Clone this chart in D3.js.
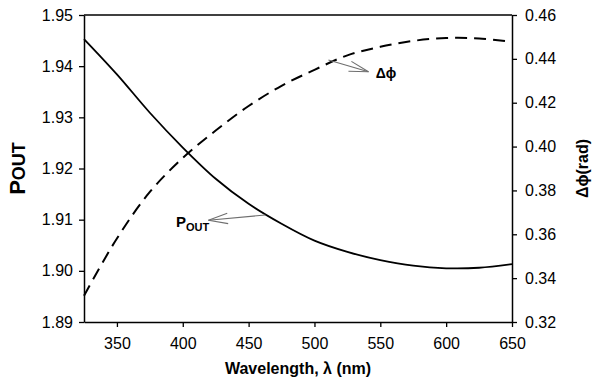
<!DOCTYPE html>
<html>
<head>
<meta charset="utf-8">
<script src="https://cdn.jsdelivr.net/npm/d3@7"></script>
<style>
  body { margin: 0; background: #fff; }
  svg { display: block; font-family: "Liberation Sans", Arial, sans-serif; }
</style>
</head>
<body>
<svg id="chart" width="602" height="390"></svg>
<script>
// ---- data ----
const wavelength = [325, 350, 375, 400, 425, 450, 475, 500, 525, 550, 575, 600, 625, 650];
const pOut = [1.9453, 1.9384, 1.9309, 1.9241, 1.9180, 1.9131, 1.9092, 1.9059, 1.9037, 1.9021, 1.9010, 1.9005, 1.9006, 1.9013];
const deltaPhi = [0.3320, 0.3581, 0.3793, 0.3948, 0.4073, 0.4185, 0.4277, 0.4350, 0.4416, 0.4455, 0.4482, 0.4495, 0.4493, 0.4477];
const xTicks = [350, 400, 450, 500, 550, 600, 650];
const yLeftTicks = [1.89, 1.90, 1.91, 1.92, 1.93, 1.94, 1.95];
const yRightTicks = [0.32, 0.34, 0.36, 0.38, 0.40, 0.42, 0.44, 0.46];
const xDomain = [325, 650];
const yLeftDomain = [1.89, 1.95];
const yRightDomain = [0.32, 0.46];
// annotation anchors in data units: [wavelength, value]
const phiArrow = { from: [510.6, 0.4395], to: [541, 0.4341], label: [546.5, 0.4313] };
const pArrow = { from: [462.6, 1.9109], to: [419.5, 1.9099], label: [394.9, 1.9085] };

// ---- layout ----
const W = 602, H = 390;
const m = { left: 84, right: 90, top: 15, bottom: 68 };
const svg = d3.select("#chart");

const x = d3.scaleLinear().domain(xDomain).range([m.left, W - m.right]);
const yL = d3.scaleLinear().domain(yLeftDomain).range([H - m.bottom, m.top]);
const yR = d3.scaleLinear().domain(yRightDomain).range([H - m.bottom, m.top]);

// frame top line
svg.append("line")
  .attr("x1", x(xDomain[0])).attr("x2", x(xDomain[1]))
  .attr("y1", yL(yLeftDomain[1])).attr("y2", yL(yLeftDomain[1]))
  .attr("stroke", "#000").attr("stroke-width", 1.5);

function styleAxis(g) {
  g.selectAll(".domain").attr("stroke", "#000").attr("stroke-width", 1.5);
  g.selectAll(".tick line").attr("stroke", "#000").attr("stroke-width", 1.3);
  g.selectAll(".tick text").attr("fill", "#000")
    .style("font-family", '"Liberation Sans", Arial, sans-serif')
    .style("font-size", "16px");
}

svg.append("g")
  .attr("transform", `translate(0,${H - m.bottom})`)
  .call(d3.axisBottom(x).tickValues(xTicks).tickSize(5).tickSizeOuter(0).tickPadding(11).tickFormat(d3.format("d")))
  .call(styleAxis);

svg.append("g")
  .attr("transform", `translate(${m.left},0)`)
  .call(d3.axisLeft(yL).tickValues(yLeftTicks).tickSize(5).tickSizeOuter(0).tickPadding(6).tickFormat(d3.format(".2f")))
  .call(styleAxis);

svg.append("g")
  .attr("transform", `translate(${W - m.right},0)`)
  .call(d3.axisRight(yR).tickValues(yRightTicks).tickSize(5).tickSizeOuter(0).tickPadding(8).tickFormat(d3.format(".2f")))
  .call(styleAxis);

// ---- lines ----
const lineL = d3.line().x((d, i) => x(wavelength[i])).y(d => yL(d)).curve(d3.curveCatmullRom);
const lineR = d3.line().x((d, i) => x(wavelength[i])).y(d => yR(d)).curve(d3.curveCatmullRom);

svg.append("path").datum(pOut)
  .attr("d", lineL).attr("fill", "none").attr("stroke", "#000").attr("stroke-width", 1.8);

svg.append("path").datum(deltaPhi)
  .attr("d", lineR).attr("fill", "none").attr("stroke", "#000").attr("stroke-width", 2)
  .attr("stroke-dasharray", "12,7");

// ---- annotations ----
function arrow(a, ys) {
  const x1 = x(a.from[0]), y1 = ys(a.from[1]);
  const x2 = x(a.to[0]), y2 = ys(a.to[1]);
  const g = svg.append("g").attr("stroke", "#6e6e6e").attr("stroke-width", 1.1).attr("fill", "none");
  g.append("line").attr("x1", x1).attr("y1", y1).attr("x2", x2).attr("y2", y2);
  const ang = Math.atan2(y1 - y2, x1 - x2);
  const len = 20, spread = 15 * Math.PI / 180;
  [-spread, spread].forEach(s => {
    g.append("line").attr("x1", x2).attr("y1", y2)
      .attr("x2", x2 + len * Math.cos(ang + s)).attr("y2", y2 + len * Math.sin(ang + s));
  });
}
arrow(phiArrow, yR);
arrow(pArrow, yL);

svg.append("text")
  .attr("x", x(phiArrow.label[0])).attr("y", yR(phiArrow.label[1]))
  .attr("font-size", 14).attr("font-weight", "bold").attr("fill", "#000")
  .text("Δϕ");

const pl = svg.append("text")
  .attr("x", x(pArrow.label[0])).attr("y", yL(pArrow.label[1]))
  .attr("font-size", 15).attr("font-weight", "bold").attr("fill", "#000");
pl.append("tspan").text("P");
pl.append("tspan").attr("font-size", 11).attr("dy", 4).text("OUT");

// ---- axis titles ----
svg.append("text")
  .attr("x", (m.left + W - m.right) / 2).attr("y", 374)
  .attr("text-anchor", "middle").attr("font-size", 16).attr("font-weight", "bold")
  .text("Wavelength, λ (nm)");

const lt = svg.append("text")
  .attr("transform", `translate(25,${(m.top + H - m.bottom) / 2}) rotate(-90)`)
  .attr("text-anchor", "middle").attr("font-weight", "bold");
lt.append("tspan").attr("font-size", 22).text("P");
lt.append("tspan").attr("font-size", 18).text("OUT");

svg.append("text")
  .attr("transform", `translate(588,${(m.top + H - m.bottom) / 2}) rotate(-90)`)
  .attr("text-anchor", "middle").attr("font-size", 16).attr("font-weight", "bold")
  .text("Δϕ(rad)");
</script>
</body>
</html>
